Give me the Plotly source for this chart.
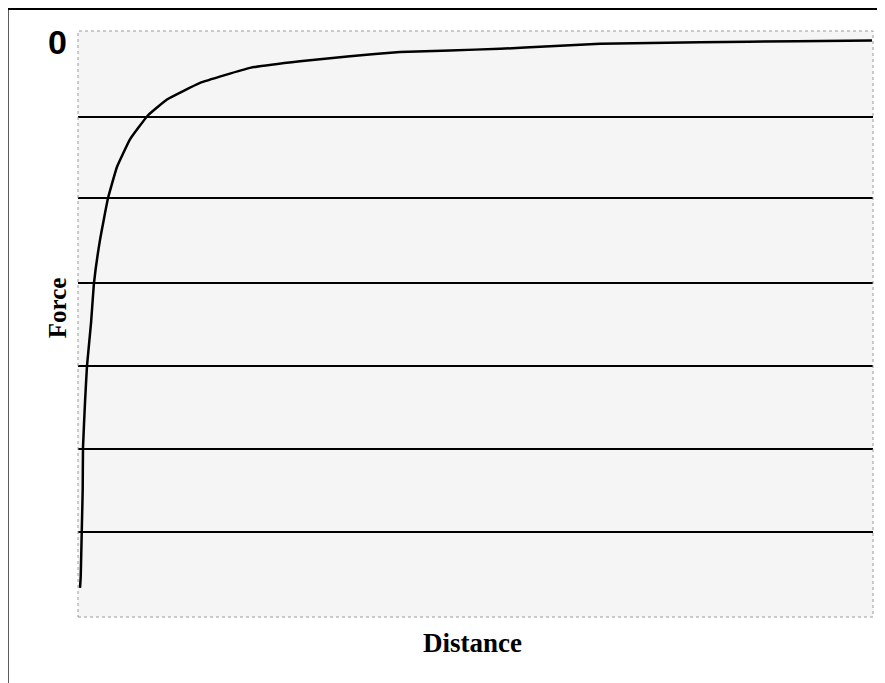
import plotly.graph_objects as go

# Curve data (distance in arbitrary units, force in gridline units)
distance = [0.25, 0.34, 0.47, 0.59, 0.63, 0.88, 1.13, 1.64, 2.01, 2.77, 3.77, 4.91,
            6.54, 8.81, 11.19, 15.35, 21.64, 27.92, 34.21, 40.50, 46.79, 53.08,
            59.37, 65.66, 78.24, 90.44, 99.87]
force = [-6.59, -6.46, -5.92, -5.41, -4.90, -4.36, -3.92, -3.40, -2.92, -2.40, -1.90, -1.52,
         -1.19, -0.90, -0.71, -0.51, -0.33, -0.25, -0.19, -0.14, -0.12, -0.10,
         -0.07, -0.04, -0.02, -0.01, 0.0]
gridline_values = [-0.92, -1.90, -2.92, -3.92, -4.92, -5.92]
zero_label = "0"
x_title = "Distance"
y_title = "Force"

fig = go.Figure()
fig.add_trace(go.Scatter(
    x=distance, y=force, mode="lines",
    line=dict(color="black", width=2.5, shape="spline", smoothing=0.3),
    hoverinfo="skip", showlegend=False,
))

fig.update_layout(
    width=885, height=683,
    margin=dict(l=70, r=20, t=23, b=74),
    paper_bgcolor="white",
    plot_bgcolor="#f5f5f5",
    showlegend=False,
    xaxis=dict(range=[0, 100], showgrid=False, zeroline=False, showticklabels=False,
               ticks="", showline=False, fixedrange=True),
    yaxis=dict(range=[-6.94, 0.114], tickvals=gridline_values, showticklabels=False,
               ticks="", showgrid=True, gridcolor="black", gridwidth=2,
               zeroline=False, showline=False, fixedrange=True),
    shapes=[
        dict(type="rect", xref="paper", yref="paper", x0=0, x1=1, y0=0, y1=1,
             line=dict(color="#9a9a9a", width=1, dash="dot"), layer="above"),
        dict(type="line", xref="paper", yref="paper", x0=-0.0881, x1=-0.0881,
             y0=1.0375, y1=-0.13, line=dict(color="#555555", width=2)),
        dict(type="line", xref="paper", yref="paper", x0=-0.0881, x1=1.03,
             y0=1.0375, y1=1.0375, line=dict(color="black", width=2)),
    ],
    annotations=[
        dict(text="<b>%s</b>" % zero_label, xref="paper", yref="paper", x=-0.0252, y=0.981,
             showarrow=False, xanchor="center", yanchor="middle",
             font=dict(family="Liberation Sans", size=34, color="black")),
        dict(text="<b>%s</b>" % y_title, xref="paper", yref="paper", x=-0.0264, y=0.527,
             showarrow=False, textangle=-90, xanchor="center", yanchor="middle",
             font=dict(family="Liberation Serif", size=25, color="black")),
        dict(text="<b>%s</b>" % x_title, xref="paper", yref="paper", x=0.4956, y=-0.0444,
             showarrow=False, xanchor="center", yanchor="middle",
             font=dict(family="Liberation Serif", size=27, color="black")),
    ],
)

fig.write_html("out.html")
